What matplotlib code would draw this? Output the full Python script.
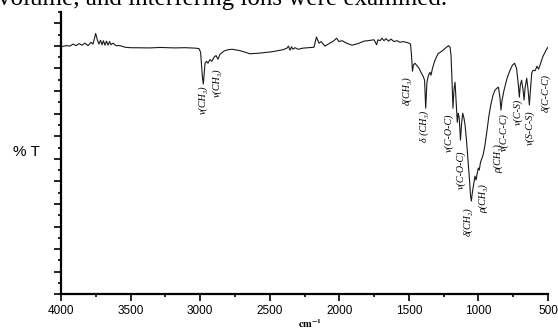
import matplotlib
matplotlib.use('Agg')
import matplotlib.pyplot as plt
from matplotlib.ticker import MultipleLocator

# spectrum: wavenumber (cm-1) and %T
wn = [4000, 3964, 3935, 3914, 3892, 3871, 3849, 3828, 3806, 3784, 3770, 3751, 3738, 3727,
      3716, 3705, 3695, 3684, 3673, 3662, 3651, 3641, 3626, 3605, 3576, 3540, 3504, 3360,
      3289, 3181, 3109, 3037, 3008, 2997, 2990, 2983, 2977, 2972, 2965, 2954, 2944, 2929,
      2915, 2900, 2886, 2872, 2857, 2829, 2800, 2771, 2714, 2642, 2570, 2484, 2404, 2376,
      2365, 2354, 2343, 2333, 2318, 2297, 2261, 2225, 2182, 2164, 2146, 2131, 2103, 2067,
      2038, 2020, 2002, 1980, 1948, 1909, 1866, 1822, 1794, 1750, 1732, 1722, 1707, 1693,
      1679, 1664, 1646, 1628, 1607, 1585, 1564, 1542, 1520, 1499, 1488, 1481, 1474, 1467,
      1456, 1441, 1427, 1413, 1398, 1387, 1379, 1370, 1359, 1348, 1341, 1330, 1312, 1291,
      1269, 1247, 1233, 1215, 1204, 1197, 1190, 1183, 1176, 1168, 1161, 1152, 1145, 1138,
      1129, 1122, 1113, 1104, 1096, 1086, 1075, 1064, 1057, 1051, 1043, 1032, 1025, 1017,
      1010, 1001, 994, 985, 974, 965, 953, 938, 924, 910, 895, 881, 866, 856, 845, 838,
      830, 816, 794, 773, 755, 740, 726, 713, 706, 699, 690, 679, 672, 665, 653, 643, 634,
      625, 617, 608, 593, 579, 568, 557, 546, 536, 521, 510, 500]
trans = [109.6, 110.1, 109.9, 110.8, 110.1, 111.0, 110.3, 111.2, 110.1, 111.6, 110.8, 115.5,
         112.5, 110.8, 112.5, 110.5, 112.3, 110.3, 112.1, 110.3, 111.9, 110.5, 111.2, 110.1,
         110.1, 109.4, 109.2, 109.1, 109.3, 109.1, 109.2, 109.0, 108.8, 107.2, 101.5, 95.7,
         93.1, 97.0, 102.3, 103.2, 102.3, 103.9, 103.2, 105.0, 105.7, 104.1, 106.3, 107.7,
         108.3, 108.5, 107.9, 106.5, 106.8, 107.4, 108.3, 109.0, 109.9, 108.1, 109.6, 108.5,
         109.2, 108.5, 109.0, 109.2, 109.4, 113.9, 111.2, 111.9, 109.9, 111.2, 112.3, 113.4,
         111.9, 112.3, 111.2, 110.3, 111.0, 112.1, 112.3, 112.7, 110.5, 112.7, 112.3, 113.4,
         112.3, 113.2, 112.1, 113.0, 111.9, 112.3, 111.6, 111.9, 111.6, 111.2, 110.8, 105.9,
         98.8, 101.5, 102.3, 101.2, 100.1, 98.3, 96.6, 94.8, 82.4, 93.9, 97.0, 98.3, 97.0,
         100.1, 103.7, 106.5, 107.4, 108.5, 109.2, 110.1, 109.4, 105.9, 94.8, 82.4, 90.4,
         93.9, 86.0, 76.2, 80.2, 78.0, 68.3, 75.0, 80.2, 78.0, 75.0, 68.3, 59.4, 50.6, 43.9,
         41.3, 45.3, 49.7, 52.3, 50.6, 53.2, 55.9, 55.0, 58.5, 60.3, 62.1, 66.1, 72.7, 79.3,
         84.2, 88.2, 90.4, 91.3, 91.7, 86.9, 81.6, 86.0, 90.4, 95.7, 99.2, 101.5, 102.3,
         100.1, 92.6, 87.3, 92.6, 94.8, 90.4, 86.0, 91.3, 95.7, 90.4, 83.8, 91.3, 98.0, 99.2,
         99.0, 101.0, 99.7, 101.5, 103.7, 105.4, 107.2, 108.5, 109.4]

# band assignments
labels = ['ν(CH₃)', 'ν(CH₃)', 'δ(CH₃)', 'δ (CH₃)', 'ν(C-O-C)', 'ν(C-O-C)', 'δ(CH₂)',
          'ρ(CH₃)', 'ρ(CH₃)', 'ν(C-C-C)', 'ν(C-S)', 'ν(S-C-S)', 'δ(C-C-C)']
label_wn = [2977, 2875, 1513, 1391, 1211, 1125, 1075, 967, 859, 816, 716, 629, 514]
label_t = [86.0, 93.9, 90.0, 74.5, 71.4, 55.0, 32.4, 42.2, 60.3, 71.8, 80.7, 73.6, 89.0]

xticks = [4000, 3500, 3000, 2500, 2000, 1500, 1000, 500]

plt.rcParams['mathtext.fontset'] = 'stix'

fig = plt.figure(figsize=(5.58, 3.31), dpi=100)
W, H = 558, 331
ax = fig.add_axes([61 / W, (H - 294.3) / H, (548 - 61) / W, (294.3 - 12) / H])

ax.plot(wn, trans, color='#1a1a1a', lw=0.8)

for s, x, y in zip(labels, label_wn, label_t):
    ax.text(x, y, s, rotation=90, ha='center', va='center', fontsize=7.2,
            style='italic', family=['Liberation Serif', 'DejaVu Serif'])

ax.set_xlim(4000, 500)
ax.set_ylim(0, 125)
ax.set_xticks(xticks)
ax.xaxis.set_minor_locator(MultipleLocator(250))
ax.yaxis.set_major_locator(MultipleLocator(10))
ax.yaxis.set_minor_locator(MultipleLocator(5))
ax.set_yticklabels([])
for t in ax.get_xticklabels():
    t.set_family('Liberation Sans')
ax.tick_params(which='major', length=5, width=1.2, labelsize=8.5, pad=2.5)
ax.tick_params(which='minor', length=2.5, width=1.2)

ax.spines['top'].set_visible(False)
ax.spines['right'].set_visible(False)
ax.spines['left'].set_linewidth(1.6)
ax.spines['bottom'].set_linewidth(1.6)

fig.text(13 / W, 1 - 152 / H, '% T', ha='left', va='center', fontsize=11,
         family='Liberation Sans')
fig.text(310 / W, 1 - 324 / H, r'$\mathbf{cm^{-1}}$', ha='center', va='center', fontsize=7.5)

# cut-off line of the surrounding paper text
fig.text(-2 / W, 1 - 5 / H, 'volume, and interfering ions were examined.', ha='left',
         va='baseline', fontsize=18, family='Liberation Serif')

fig.savefig('out.png', dpi=100)
